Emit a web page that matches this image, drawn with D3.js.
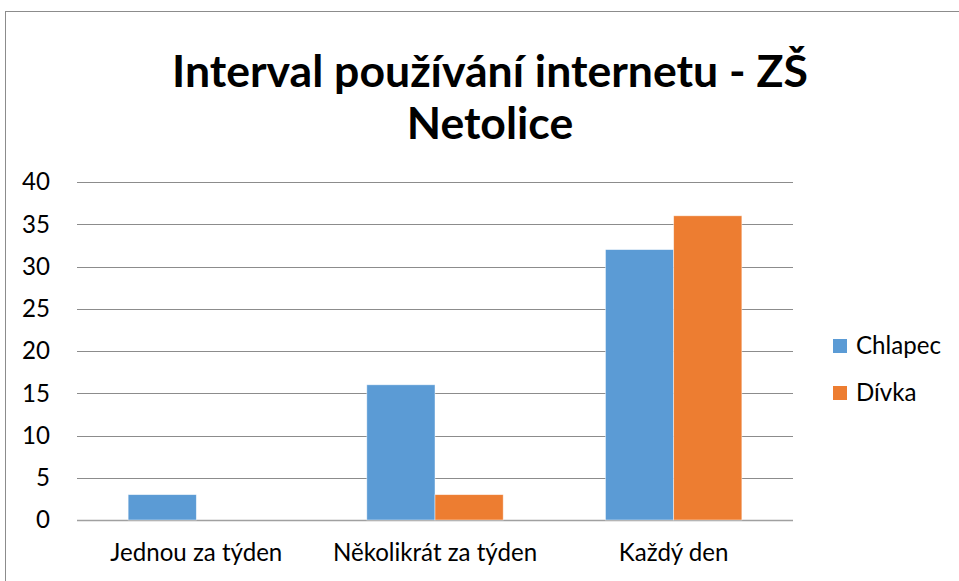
<!DOCTYPE html>
<html>
<head>
<meta charset="utf-8">
<script src="https://cdn.jsdelivr.net/npm/d3@7"></script>
<style>
  body { margin: 0; background: #fff; }
  svg { display: block; font-family: Lato, "Open Sans", sans-serif; }
</style>
</head>
<body>
<script>
const categories = ["Jednou za týden", "Několikrát za týden", "Každý den"];
const seriesNames = ["Chlapec", "Dívka"];
const chlapec = [3, 16, 32];
const divka = [0, 3, 36];
const yTicks = [0, 5, 10, 15, 20, 25, 30, 35, 40];
const colors = ["#5B9BD5", "#ED7D31"];

const width = 959, height = 581;
const plot = { left: 77, right: 793, top: 182, bottom: 520 };

const svg = d3.select("body").append("svg")
  .attr("width", width)
  .attr("height", height);

// outer chart border
svg.append("rect")
  .attr("x", 5.5).attr("y", 11.5)
  .attr("width", 1000).attr("height", 1000)
  .attr("fill", "none")
  .attr("stroke", "#8c8c8c");

// size text so it takes up a measured width
function fitSize(text, weight, fs, target) {
  const t = svg.append("text")
    .attr("font-size", fs).attr("font-weight", weight).text(text);
  const len = t.node().getComputedTextLength();
  t.remove();
  return fs * target / len;
}

const titleFs = fitSize("Interval používání internetu - ZŠ", "bold", 40, 636);
const smallFs = fitSize("Jednou za týden", "normal", 20, 172);

svg.append("text")
  .attr("x", 490).attr("y", 87)
  .attr("text-anchor", "middle")
  .attr("font-weight", "bold")
  .attr("font-size", titleFs)
  .attr("fill", "#000")
  .text("Interval používání internetu - ZŠ");
svg.append("text")
  .attr("x", 490).attr("y", 139)
  .attr("text-anchor", "middle")
  .attr("font-weight", "bold")
  .attr("font-size", titleFs)
  .attr("fill", "#000")
  .text("Netolice");

const x = d3.scaleBand().domain(categories).range([plot.left, plot.right]);
const bw = x.bandwidth() / 3.5;
const xs = d3.scaleBand().domain(seriesNames).range([0, bw * 2]);
const y = d3.scaleLinear().domain([0, 40]).range([plot.bottom, plot.top]);

// gridlines
svg.append("g")
  .selectAll("line")
  .data(yTicks)
  .join("line")
  .attr("x1", plot.left).attr("x2", plot.right)
  .attr("y1", d => Math.round(y(d)) + 0.5)
  .attr("y2", d => Math.round(y(d)) + 0.5)
  .attr("stroke", d => d === 0 ? "#a0a0a0" : "#8c8c8c")
  .attr("stroke-width", d => d === 0 ? 1.5 : 1);

// y tick labels
svg.append("g")
  .selectAll("text")
  .data(yTicks)
  .join("text")
  .attr("x", 50)
  .attr("y", d => y(d))
  .attr("dy", "0.35em")
  .attr("text-anchor", "end")
  .attr("font-size", smallFs)
  .attr("fill", "#000")
  .text(d => d);

// bars
const data = categories.map((c, i) => ({ c, vals: [chlapec[i], divka[i]] }));
const group = svg.append("g")
  .selectAll("g")
  .data(data)
  .join("g")
  .attr("transform", d => `translate(${x(d.c) + x.bandwidth() / 2 - bw},0)`);

group.selectAll("rect")
  .data(d => d.vals.map((v, j) => ({ s: seriesNames[j], v, j })))
  .join("rect")
  .filter(d => d.v > 0)
  .attr("x", d => xs(d.s))
  .attr("width", xs.bandwidth())
  .attr("y", d => y(d.v))
  .attr("height", d => y(0) - y(d.v))
  .attr("fill", d => colors[d.j])
  .attr("stroke", "#ffffff")
  .attr("stroke-opacity", 0.6)
  .attr("stroke-width", 0.75);

// category labels
svg.append("g")
  .selectAll("text")
  .data(categories)
  .join("text")
  .attr("x", d => x(d) + x.bandwidth() / 2)
  .attr("y", 553)
  .attr("dy", "0.35em")
  .attr("text-anchor", "middle")
  .attr("font-size", smallFs)
  .attr("fill", "#000")
  .text(d => d);

// legend
const legend = svg.append("g")
  .selectAll("g")
  .data(seriesNames)
  .join("g")
  .attr("transform", (d, i) => `translate(833,${346 + i * 47})`);
legend.append("rect")
  .attr("x", 0).attr("y", -7)
  .attr("width", 14).attr("height", 14)
  .attr("fill", (d, i) => colors[i]);
legend.append("text")
  .attr("x", 23).attr("y", 0)
  .attr("dy", "0.35em")
  .attr("font-size", smallFs)
  .attr("fill", "#000")
  .text(d => d);
</script>
</body>
</html>
